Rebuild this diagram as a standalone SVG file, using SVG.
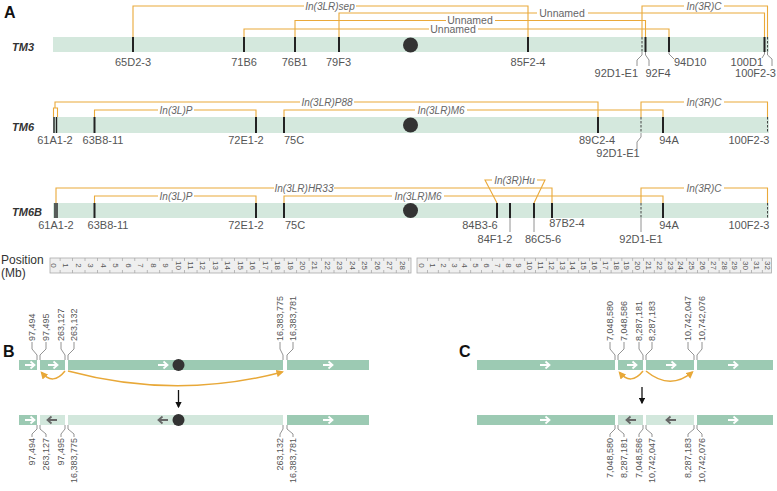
<svg xmlns="http://www.w3.org/2000/svg" width="777" height="491" viewBox="0 0 777 491">
<defs>
<style>
text{font-family:"Liberation Sans",Arial,sans-serif}
.pl{font-size:16px;font-weight:bold;fill:#111}
.cn{font-size:11px;font-style:italic;font-weight:bold;fill:#333}
.bar{fill:#d4e8dd}
.tk{stroke:#222;stroke-width:2}
.dtk{stroke:#444;stroke-width:1;stroke-dasharray:2.5 1.5}
.lb{font-size:11px;fill:#555;text-anchor:middle}
.ld{fill:none;stroke:#777;stroke-width:0.8}
.or{fill:none;stroke:#eaa93a;stroke-width:1.1}
.inv{font-size:10px;font-style:italic;fill:#666;text-anchor:middle}
.un{font-size:10.5px;fill:#666;text-anchor:middle}
.cen{fill:#333}
.rul{fill:#efefef;stroke:#aaa;stroke-width:0.8}
.rt{font-size:8px;fill:#555;text-anchor:middle;dominant-baseline:central}
.rtk{stroke:#aaa;stroke-width:3}
.dk{fill:#9ccab3}
.lt{fill:#d2e7dc}
.num{font-size:9px;fill:#555;dominant-baseline:central}
.arc{fill:none;stroke:#e8a838;stroke-width:1.5}
.wa{fill:none;stroke:#fff;stroke-width:1.8}
.ga{fill:none;stroke:#666;stroke-width:1.8}
.ax{stroke:#111;stroke-width:1.3}
</style>
<marker id="oa" viewBox="0 0 10 10" refX="8" refY="5" markerWidth="5" markerHeight="5" orient="auto"><path d="M0,0 L10,5 L0,10 z" fill="#e8a838"/></marker>
<marker id="ka" viewBox="0 0 10 10" refX="8" refY="5" markerWidth="5" markerHeight="5" orient="auto"><path d="M0,0 L10,5 L0,10 z" fill="#111"/></marker>
<path id="ar" d="M-5,0 H4 M0.5,-3.5 L4.5,0 L0.5,3.5"/>
</defs>
<rect width="777" height="491" fill="#fff"/>

<text class="pl" x="4" y="18">A</text>

<!-- TM3 -->
<g id="tm3">
<text class="cn" x="12" y="51">TM3</text>
<rect class="bar" x="53" y="37" width="716" height="15"/>
<line class="tk" x1="133" y1="37" x2="133" y2="52"/>
<line class="tk" x1="244" y1="37" x2="244" y2="52"/>
<line class="tk" x1="295" y1="37" x2="295" y2="52"/>
<line class="tk" x1="339" y1="37" x2="339" y2="52"/>
<line class="tk" x1="528" y1="37" x2="528" y2="52"/>
<line class="dtk" x1="642" y1="37" x2="642" y2="52"/>
<line class="tk" x1="645.5" y1="37" x2="645.5" y2="52"/>
<line class="tk" x1="669" y1="37" x2="669" y2="52"/>
<line class="tk" x1="764.5" y1="37" x2="764.5" y2="52"/>
<line class="dtk" x1="767.5" y1="37" x2="767.5" y2="52"/>
<circle class="cen" cx="410.5" cy="45" r="7.5"/>
<polyline class="ld" points="642,52 642,55 637,60 637,66"/>
<polyline class="ld" points="645.5,52 645.5,55 649,60 649,66"/>
<polyline class="ld" points="669,52 669,54 674,59"/>
<polyline class="ld" points="764.5,52 764.5,54 762,58"/>
<polyline class="ld" points="767.5,52 767.5,55 772,59 772,66"/>
<text class="lb" x="133" y="66">65D2-3</text>
<text class="lb" x="244" y="66">71B6</text>
<text class="lb" x="294.5" y="66">76B1</text>
<text class="lb" x="338.5" y="66">79F3</text>
<text class="lb" x="528" y="66">85F2-4</text>
<text class="lb" x="638" y="77" style="text-anchor:end">92D1-E1</text>
<text class="lb" x="658" y="77">92F4</text>
<text class="lb" x="674" y="66" style="text-anchor:start">94D10</text>
<text class="lb" x="763" y="66" style="text-anchor:end">100D1</text>
<text class="lb" x="776" y="77" style="text-anchor:end">100F2-3</text>
</g>

<!-- TM6 -->
<g id="tm6">
<text class="cn" x="12" y="131">TM6</text>
<rect class="bar" x="53" y="117" width="716" height="16"/>
<line class="tk" x1="54" y1="117" x2="54" y2="133" style="stroke-width:1.4"/>
<line class="tk" x1="56.5" y1="117" x2="56.5" y2="133" style="stroke-width:1.4"/>
<line class="tk" x1="94.5" y1="117" x2="94.5" y2="133"/>
<line class="tk" x1="256" y1="117" x2="256" y2="133"/>
<line class="tk" x1="284" y1="117" x2="284" y2="133"/>
<line class="tk" x1="598" y1="117" x2="598" y2="133"/>
<line class="dtk" x1="641" y1="117" x2="641" y2="133"/>
<line class="tk" x1="663" y1="117" x2="663" y2="133"/>
<line class="dtk" x1="767.5" y1="117" x2="767.5" y2="133"/>
<circle class="cen" cx="410.5" cy="125" r="7.5"/>
<polyline class="ld" points="641,133 641,137 637,142 637,149"/>
<text class="lb" x="55" y="144">61A1-2</text>
<text class="lb" x="103" y="144">63B8-11</text>
<text class="lb" x="246" y="144">72E1-2</text>
<text class="lb" x="294" y="144">75C</text>
<text class="lb" x="597" y="144">89C2-4</text>
<text class="lb" x="618" y="157">92D1-E1</text>
<text class="lb" x="669" y="144">94A</text>
<text class="lb" x="749" y="144">100F2-3</text>
</g>

<!-- TM6B -->
<g id="tm6b">
<text class="cn" x="12" y="216">TM6B</text>
<rect class="bar" x="53" y="203" width="716" height="15"/>
<line class="tk" x1="55" y1="203" x2="55" y2="218" style="stroke-width:1.4"/>
<line class="tk" x1="57" y1="203" x2="57" y2="218" style="stroke-width:1.4"/>
<line class="tk" x1="94.5" y1="203" x2="94.5" y2="218"/>
<line class="tk" x1="256" y1="203" x2="256" y2="218"/>
<line class="tk" x1="284" y1="203" x2="284" y2="218"/>
<line class="tk" x1="497" y1="203" x2="497" y2="218"/>
<line class="tk" x1="510" y1="203" x2="510" y2="218"/>
<line class="tk" x1="534" y1="203" x2="534" y2="218"/>
<line class="tk" x1="552" y1="203" x2="552" y2="218"/>
<line class="dtk" x1="641" y1="203" x2="641" y2="218"/>
<line class="tk" x1="663" y1="203" x2="663" y2="218"/>
<line class="dtk" x1="767.5" y1="203" x2="767.5" y2="218"/>
<circle class="cen" cx="410.5" cy="210.5" r="7.5"/>
<line class="ld" x1="510" y1="218" x2="510" y2="232"/>
<line class="ld" x1="534" y1="218" x2="534" y2="232"/>
<line class="ld" x1="641" y1="218" x2="641" y2="232"/>
<text class="lb" x="56" y="229">61A1-2</text>
<text class="lb" x="108" y="229">63B8-11</text>
<text class="lb" x="246" y="229">72E1-2</text>
<text class="lb" x="295" y="229">75C</text>
<text class="lb" x="480" y="229">84B3-6</text>
<text class="lb" x="567" y="227">87B2-4</text>
<text class="lb" x="669" y="229">94A</text>
<text class="lb" x="749" y="229">100F2-3</text>
<text class="lb" x="495" y="243">84F1-2</text>
<text class="lb" x="543" y="243">86C5-6</text>
<text class="lb" x="641" y="243">92D1-E1</text>
</g>

<!-- inversion connectors -->
<g id="connectors">
<path class="or" d="M133,37 V6 H304 M356,6 H528 V37"/>
<path class="or" d="M339,37 V13 H537 M588,13 H764.5 V37"/>
<path class="or" d="M295,37 V20.5 H446 M495,20.5 H645.5 V37"/>
<path class="or" d="M244,37 V29 H429 M478,29 H669 V37"/>
<path class="or" d="M642,37 V6 H684 M724,6 H767.5 V37"/>

<path class="or" d="M55,108 V102 H300 M354,102 H598 V117"/>
<path class="or" d="M53.5,117 V108 H57.5 V117"/>
<path class="or" d="M94.5,117 V110 H158 M194,110 H256 V117"/>
<path class="or" d="M284,117 V110 H415 M467,110 H663 V117"/>
<path class="or" d="M641,117 V102 H684 M724,102 H767.5 V117"/>

<path class="or" d="M56,203 V188 H274 M334,188 H552 V203"/>
<path class="or" d="M94.5,203 V196 H158 M194,196 H256 V203"/>
<path class="or" d="M284,203 V196 H392 M444,196 H663 V203"/>
<path class="or" d="M497,203 L485,180 H492 M537,180 H545 L534,203"/>
<path class="or" d="M641,203 V188 H684 M724,188 H767.5 V203"/>
</g>

<g id="inv-labels">
<text class="inv" x="330" y="9.5">In(3LR)sep</text>
<text class="un" x="562" y="16.5">Unnamed</text>
<text class="un" x="470" y="24">Unnamed</text>
<text class="un" x="453" y="33">Unnamed</text>
<text class="inv" x="704" y="9.5">In(3R)C</text>
<text class="inv" x="327" y="105.5">In(3LR)P88</text>
<text class="inv" x="176" y="113.5">In(3L)P</text>
<text class="inv" x="441" y="113.5">In(3LR)M6</text>
<text class="inv" x="704" y="105.5">In(3R)C</text>
<text class="inv" x="304" y="191.5">In(3LR)HR33</text>
<text class="inv" x="176" y="199.5">In(3L)P</text>
<text class="inv" x="418" y="199.5">In(3LR)M6</text>
<text class="inv" x="514.5" y="183.5">In(3R)Hu</text>
<text class="inv" x="704" y="191.5">In(3R)C</text>
</g>

<!-- ruler -->
<g id="ruler">
<text x="1" y="264" style="font-size:12px;fill:#333">Position</text>
<text x="1" y="277" style="font-size:12px;fill:#333">(Mb)</text>
<rect class="rul" x="50" y="258" width="361" height="15"/>
<line class="rtk" x1="59.7" y1="259.5" x2="411" y2="259.5" stroke-dasharray="0.8 11.65"/>
<line class="rtk" x1="59.7" y1="271.5" x2="411" y2="271.5" stroke-dasharray="0.8 11.65"/>
<g class="rt">
<text transform="translate(53.5,265.5) rotate(90)">0</text>
<text transform="translate(65.95,265.5) rotate(90)">1</text>
<text transform="translate(78.4,265.5) rotate(90)">2</text>
<text transform="translate(90.85,265.5) rotate(90)">3</text>
<text transform="translate(103.3,265.5) rotate(90)">4</text>
<text transform="translate(115.75,265.5) rotate(90)">5</text>
<text transform="translate(128.2,265.5) rotate(90)">6</text>
<text transform="translate(140.65,265.5) rotate(90)">7</text>
<text transform="translate(153.1,265.5) rotate(90)">8</text>
<text transform="translate(165.55,265.5) rotate(90)">9</text>
<text transform="translate(178,265.5) rotate(90)">10</text>
<text transform="translate(190.45,265.5) rotate(90)">11</text>
<text transform="translate(202.9,265.5) rotate(90)">12</text>
<text transform="translate(215.35,265.5) rotate(90)">13</text>
<text transform="translate(227.8,265.5) rotate(90)">14</text>
<text transform="translate(240.25,265.5) rotate(90)">15</text>
<text transform="translate(252.7,265.5) rotate(90)">16</text>
<text transform="translate(265.15,265.5) rotate(90)">17</text>
<text transform="translate(277.6,265.5) rotate(90)">18</text>
<text transform="translate(290.05,265.5) rotate(90)">19</text>
<text transform="translate(302.5,265.5) rotate(90)">20</text>
<text transform="translate(314.95,265.5) rotate(90)">21</text>
<text transform="translate(327.4,265.5) rotate(90)">22</text>
<text transform="translate(339.85,265.5) rotate(90)">23</text>
<text transform="translate(352.3,265.5) rotate(90)">24</text>
<text transform="translate(364.75,265.5) rotate(90)">25</text>
<text transform="translate(377.2,265.5) rotate(90)">26</text>
<text transform="translate(389.65,265.5) rotate(90)">27</text>
<text transform="translate(402.1,265.5) rotate(90)">28</text>
</g>
<rect class="rul" x="417" y="258" width="354.5" height="15"/>
<line class="rtk" x1="427.1" y1="259.5" x2="771" y2="259.5" stroke-dasharray="0.8 10"/>
<line class="rtk" x1="427.1" y1="271.5" x2="771" y2="271.5" stroke-dasharray="0.8 10"/>
<g class="rt">
<text transform="translate(421.7,265.5) rotate(90)">0</text>
<text transform="translate(432.5,265.5) rotate(90)">1</text>
<text transform="translate(443.3,265.5) rotate(90)">2</text>
<text transform="translate(454.1,265.5) rotate(90)">3</text>
<text transform="translate(464.9,265.5) rotate(90)">4</text>
<text transform="translate(475.7,265.5) rotate(90)">5</text>
<text transform="translate(486.5,265.5) rotate(90)">6</text>
<text transform="translate(497.3,265.5) rotate(90)">7</text>
<text transform="translate(508.1,265.5) rotate(90)">8</text>
<text transform="translate(518.9,265.5) rotate(90)">9</text>
<text transform="translate(529.7,265.5) rotate(90)">10</text>
<text transform="translate(540.5,265.5) rotate(90)">11</text>
<text transform="translate(551.3,265.5) rotate(90)">12</text>
<text transform="translate(562.1,265.5) rotate(90)">13</text>
<text transform="translate(572.9,265.5) rotate(90)">14</text>
<text transform="translate(583.7,265.5) rotate(90)">15</text>
<text transform="translate(594.5,265.5) rotate(90)">16</text>
<text transform="translate(605.3,265.5) rotate(90)">17</text>
<text transform="translate(616.1,265.5) rotate(90)">18</text>
<text transform="translate(626.9,265.5) rotate(90)">19</text>
<text transform="translate(637.7,265.5) rotate(90)">20</text>
<text transform="translate(648.5,265.5) rotate(90)">21</text>
<text transform="translate(659.3,265.5) rotate(90)">22</text>
<text transform="translate(670.1,265.5) rotate(90)">23</text>
<text transform="translate(680.9,265.5) rotate(90)">24</text>
<text transform="translate(691.7,265.5) rotate(90)">25</text>
<text transform="translate(702.5,265.5) rotate(90)">26</text>
<text transform="translate(713.3,265.5) rotate(90)">27</text>
<text transform="translate(724.1,265.5) rotate(90)">28</text>
<text transform="translate(734.9,265.5) rotate(90)">29</text>
<text transform="translate(745.7,265.5) rotate(90)">30</text>
<text transform="translate(756.5,265.5) rotate(90)">31</text>
<text transform="translate(767.3,265.5) rotate(90)">32</text>
</g>
</g>

<!-- Panel B -->
<g id="panelB">
<text class="pl" x="3" y="357">B</text>
<g id="b-top">
<rect class="dk" x="19" y="360" width="18" height="10"/>
<rect class="dk" x="40" y="360" width="25" height="10"/>
<rect class="dk" x="68" y="360" width="215" height="10"/>
<rect class="dk" x="287" y="360" width="82" height="10"/>
<use href="#ar" class="wa" x="30" y="365"/>
<use href="#ar" class="wa" x="53" y="365"/>
<use href="#ar" class="wa" x="163" y="365"/>
<use href="#ar" class="wa" x="328" y="365"/>
<circle class="cen" cx="178.5" cy="365" r="6"/>
</g>
<g id="b-bottom">
<rect class="dk" x="19" y="415" width="18" height="10"/>
<rect class="lt" x="40" y="415" width="25" height="10"/>
<rect class="lt" x="68" y="415" width="215" height="10"/>
<rect class="dk" x="287" y="415" width="82" height="10"/>
<use href="#ar" class="wa" x="30" y="420"/>
<use href="#ar" class="ga" transform="translate(52,420) scale(-1,1)"/>
<use href="#ar" class="ga" transform="translate(163,420) scale(-1,1)"/>
<use href="#ar" class="wa" x="328" y="420"/>
<circle class="cen" cx="178.5" cy="420" r="6"/>
</g>
<g id="b-labels">
<polyline class="ld" points="32,342 32,349 37,355 37,360"/>
<polyline class="ld" points="46,342 46,349 40,355 40,360"/>
<polyline class="ld" points="61,342 61,349 65,355 65,360"/>
<polyline class="ld" points="74,342 74,349 68,355 68,360"/>
<polyline class="ld" points="280,342 280,349 283,355 283,360"/>
<polyline class="ld" points="293,342 293,349 287,355 287,360"/>
<text class="num" transform="translate(32,341) rotate(-90)">97,494</text>
<text class="num" transform="translate(46,341) rotate(-90)">97,495</text>
<text class="num" transform="translate(61,341) rotate(-90)">263,127</text>
<text class="num" transform="translate(74,341) rotate(-90)">263,132</text>
<text class="num" transform="translate(280,341) rotate(-90)">16,383,775</text>
<text class="num" transform="translate(293,341) rotate(-90)">16,383,781</text>
<polyline class="ld" points="37,425 37,429 32,434 32,437"/>
<polyline class="ld" points="40,425 40,429 46,434 46,437"/>
<polyline class="ld" points="65,425 65,429 61,434 61,437"/>
<polyline class="ld" points="68,425 68,429 74,434 74,437"/>
<polyline class="ld" points="283,425 283,429 280,434 280,437"/>
<polyline class="ld" points="287,425 287,429 293,434 293,437"/>
<text class="num" text-anchor="end" transform="translate(32,438) rotate(-90)">97,494</text>
<text class="num" text-anchor="end" transform="translate(46,438) rotate(-90)">263,127</text>
<text class="num" text-anchor="end" transform="translate(61,438) rotate(-90)">97,495</text>
<text class="num" text-anchor="end" transform="translate(74,438) rotate(-90)">16,383,775</text>
<text class="num" text-anchor="end" transform="translate(280,438) rotate(-90)">263,132</text>
<text class="num" text-anchor="end" transform="translate(293,438) rotate(-90)">16,383,781</text>
</g>
<g id="b-arrows">
<path class="arc" d="M65,371 Q53,386 41.5,372.5" marker-end="url(#oa)"/>
<path class="arc" d="M68,371 Q176,400 282.5,372" marker-end="url(#oa)"/>
<line class="ax" x1="178.5" y1="390" x2="178.5" y2="407" marker-end="url(#ka)"/>
</g>
</g>

<!-- Panel C -->
<g id="panelC">
<text class="pl" x="459" y="357">C</text>
<g id="c-top">
<rect class="dk" x="477" y="360" width="138" height="10"/>
<rect class="dk" x="618" y="360" width="25" height="10"/>
<rect class="dk" x="646" y="360" width="48" height="10"/>
<rect class="dk" x="697" y="360" width="76" height="10"/>
<use href="#ar" class="wa" x="545" y="365"/>
<use href="#ar" class="wa" x="632" y="365"/>
<use href="#ar" class="wa" x="671" y="365"/>
<use href="#ar" class="wa" x="733" y="365"/>
</g>
<g id="c-bottom">
<rect class="dk" x="477" y="415" width="138" height="10"/>
<rect class="lt" x="618" y="415" width="25" height="10" style="fill:#c8e1d4"/>
<rect class="lt" x="646" y="415" width="48" height="10"/>
<rect class="dk" x="697" y="415" width="76" height="10"/>
<use href="#ar" class="wa" x="545" y="420"/>
<use href="#ar" class="ga" transform="translate(631,420) scale(-1,1)"/>
<use href="#ar" class="ga" transform="translate(671,420) scale(-1,1)"/>
<use href="#ar" class="wa" x="733" y="420"/>
</g>
<g id="c-labels">
<polyline class="ld" points="610,342 610,349 615,355 615,360"/>
<polyline class="ld" points="624,342 624,349 618,355 618,360"/>
<polyline class="ld" points="639,342 639,349 643,355 643,360"/>
<polyline class="ld" points="652,342 652,349 646,355 646,360"/>
<polyline class="ld" points="688,342 688,349 694,355 694,360"/>
<polyline class="ld" points="702,342 702,349 697,355 697,360"/>
<text class="num" transform="translate(610,341) rotate(-90)">7,048,580</text>
<text class="num" transform="translate(624,341) rotate(-90)">7,048,586</text>
<text class="num" transform="translate(639,341) rotate(-90)">8,287,181</text>
<text class="num" transform="translate(652,341) rotate(-90)">8,287,183</text>
<text class="num" transform="translate(688,341) rotate(-90)">10,742,047</text>
<text class="num" transform="translate(702,341) rotate(-90)">10,742,076</text>
<polyline class="ld" points="615,425 615,429 610,434 610,437"/>
<polyline class="ld" points="618,425 618,429 624,434 624,437"/>
<polyline class="ld" points="643,425 643,429 639,434 639,437"/>
<polyline class="ld" points="646,425 646,429 652,434 652,437"/>
<polyline class="ld" points="694,425 694,429 688,434 688,437"/>
<polyline class="ld" points="697,425 697,429 702,434 702,437"/>
<text class="num" text-anchor="end" transform="translate(610,438) rotate(-90)">7,048,580</text>
<text class="num" text-anchor="end" transform="translate(624,438) rotate(-90)">8,287,181</text>
<text class="num" text-anchor="end" transform="translate(639,438) rotate(-90)">7,048,586</text>
<text class="num" text-anchor="end" transform="translate(652,438) rotate(-90)">10,742,047</text>
<text class="num" text-anchor="end" transform="translate(688,438) rotate(-90)">8,287,183</text>
<text class="num" text-anchor="end" transform="translate(702,438) rotate(-90)">10,742,076</text>
</g>
<g id="c-arrows">
<path class="arc" d="M643,371 Q631,386 619.5,372.5" marker-end="url(#oa)"/>
<path class="arc" d="M646,371 Q670,391 692.5,372" marker-end="url(#oa)"/>
<line class="ax" x1="642" y1="387" x2="642" y2="403" marker-end="url(#ka)"/>
</g>
</g>
</svg>
